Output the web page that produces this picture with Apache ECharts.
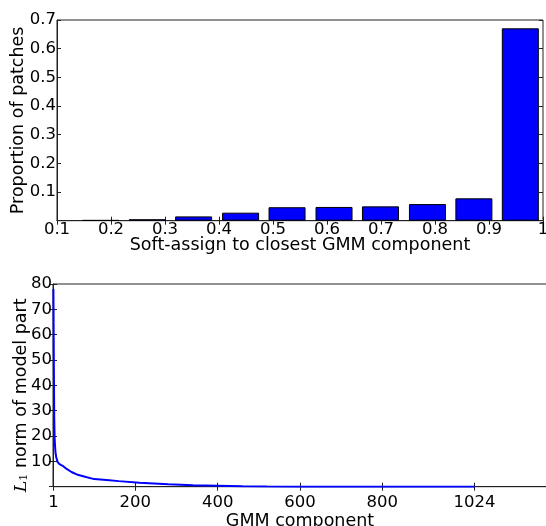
<!DOCTYPE html>
<html>
<head>
<meta charset="utf-8">
<script src="https://cdn.jsdelivr.net/npm/echarts@6/dist/echarts.min.js"></script>
<style>html,body{margin:0;padding:0;background:#fff}#c{width:546px;height:526px}</style>
</head>
<body>
<div id="c"></div>
<script>
// Top histogram: bin centres and proportions
var binCenters = [0.181, 0.267, 0.353, 0.440, 0.526, 0.613, 0.699, 0.786, 0.872, 0.958];
var proportions = [0.002, 0.005, 0.015, 0.028, 0.047, 0.048, 0.050, 0.058, 0.078, 0.671];
var topXTicks = [0.1, 0.2, 0.3, 0.4, 0.5, 0.6, 0.7, 0.8, 0.9, 1];

// Bottom line: GMM component index vs L1 norm
var gmmComponent = [1, 2, 3, 4, 5, 6, 8, 11, 15, 20, 25, 33, 45, 60, 80, 100, 130, 160, 210, 280, 340, 400, 460, 520, 600, 700, 800, 900, 1024];
var l1Norm = [78, 50, 27, 19, 16, 13.5, 11.5, 9.8, 9.0, 8.5, 8.1, 7.0, 5.8, 4.7, 3.8, 3.0, 2.6, 2.2, 1.6, 0.95, 0.55, 0.35, 0.15, 0.05, 0.02, 0.01, 0.01, 0.01, 0.0];
var bottomXTicks = [1, 200, 400, 600, 800, 1024];

var FONT = 'DejaVu Sans';
var FS = 16.5;   // tick labels
var FT = 17.5;   // axis titles
var AX = '#222';

var chart = echarts.init(document.getElementById('c'), null, {renderer: 'canvas'});

function tick() { return {show: true, inside: true, length: 4, lineStyle: {color: AX}}; }

var option = {
  backgroundColor: '#fff',
  animation: false,
  textStyle: {fontFamily: FONT},
  grid: [
    {left: 57, top: 20, width: 486, height: 200.7, show: true, borderColor: AX, borderWidth: 1,
     backgroundColor: 'transparent', outerBoundsMode: 'none', containLabel: false},
    {left: 53, top: 284, width: 494, height: 202.7, show: true, borderColor: AX, borderWidth: 1,
     backgroundColor: 'transparent', outerBoundsMode: 'none', containLabel: false}
  ],
  xAxis: [
    {gridIndex: 0, type: 'value', min: 0.1, max: 1, interval: 0.1, position: 'bottom',
     axisLine: {show: true, onZero: false, lineStyle: {color: AX}}, axisTick: tick(), splitLine: {show: false},
     axisLabel: {color: '#000', fontSize: FS, fontFamily: FONT, margin: 1,
       formatter: function (v) { var r = Math.round(v * 10) / 10; return r === 1 ? '1' : r.toFixed(1); }},
     name: 'Soft-assign to closest GMM component', nameLocation: 'middle', nameGap: 16, nameMoveOverlap: false,
     nameTextStyle: {color: '#000', fontSize: FT, fontFamily: FONT}},
    {gridIndex: 0, type: 'value', min: 0.1, max: 1, interval: 0.1, position: 'top',
     axisLine: {show: false}, axisTick: tick(), axisLabel: {show: false}, splitLine: {show: false}},
    {gridIndex: 1, type: 'value', min: 0, max: 1200, position: 'bottom',
     axisLine: {show: true, onZero: false, lineStyle: {color: AX}},
     axisTick: Object.assign(tick(), {customValues: bottomXTicks}), splitLine: {show: false},
     axisLabel: {color: '#000', fontSize: FS, fontFamily: FONT, margin: 8, customValues: bottomXTicks,
       formatter: function (v) { return String(Math.round(v)); }},
     name: 'GMM component', nameLocation: 'middle', nameGap: 26, nameMoveOverlap: false,
     nameTextStyle: {color: '#000', fontSize: FT, fontFamily: FONT}},
    {gridIndex: 1, type: 'value', min: 0, max: 1200, position: 'top',
     axisLine: {show: false}, axisTick: Object.assign(tick(), {customValues: bottomXTicks}),
     axisLabel: {show: false, customValues: bottomXTicks}, splitLine: {show: false}}
  ],
  yAxis: [
    {gridIndex: 0, type: 'value', min: 0, max: 0.7, interval: 0.1, position: 'left',
     axisLine: {show: true, lineStyle: {color: AX}}, axisTick: tick(), splitLine: {show: false},
     axisLabel: {color: '#000', fontSize: FS, fontFamily: FONT, margin: 1, showMinLabel: false,
       formatter: function (v) { return (Math.round(v * 10) / 10).toFixed(1); }},
     name: 'Proportion of patches', nameLocation: 'middle', nameGap: 30, nameMoveOverlap: false,
     nameTextStyle: {color: '#000', fontSize: FT, fontFamily: FONT}},
    {gridIndex: 0, type: 'value', min: 0, max: 0.7, interval: 0.1, position: 'right',
     axisLine: {show: false}, axisTick: tick(), axisLabel: {show: false}, splitLine: {show: false}},
    {gridIndex: 1, type: 'value', min: 0, max: 80, interval: 10, position: 'left',
     axisLine: {show: true, lineStyle: {color: AX}}, axisTick: tick(), splitLine: {show: false},
     axisLabel: {color: '#000', fontSize: FS, fontFamily: FONT, margin: 1, showMinLabel: false},
     name: '{i|L}{s|1} norm of model part', nameLocation: 'middle', nameGap: 23, nameMoveOverlap: false,
     nameTextStyle: {color: '#000', fontSize: FT, fontFamily: FONT, padding: [0, 20, 0, 0],
       rich: {i: {fontFamily: 'DejaVu Serif', fontStyle: 'italic', fontSize: FT, color: '#000'},
              s: {fontFamily: 'DejaVu Serif', fontSize: 11, color: '#000', verticalAlign: 'bottom', padding: [7, 0, 0, 0]}}}},
    {gridIndex: 1, type: 'value', min: 0, max: 80, interval: 10, position: 'right',
     axisLine: {show: false}, axisTick: tick(), axisLabel: {show: false}, splitLine: {show: false}}
  ],
  series: [
    {type: 'bar', xAxisIndex: 0, yAxisIndex: 0, barWidth: 37,
     data: binCenters.map(function (c, i) { return [c, proportions[i]]; }),
     itemStyle: {color: '#0000ff', borderColor: '#000', borderWidth: 1}},
    {type: 'line', xAxisIndex: 2, yAxisIndex: 2, showSymbol: false,
     data: gmmComponent.map(function (g, i) { return [g, l1Norm[i]]; }),
     lineStyle: {color: '#0000ff', width: 2}, itemStyle: {color: '#0000ff'}}
  ]
};
chart.setOption(option);
</script>
</body>
</html>
